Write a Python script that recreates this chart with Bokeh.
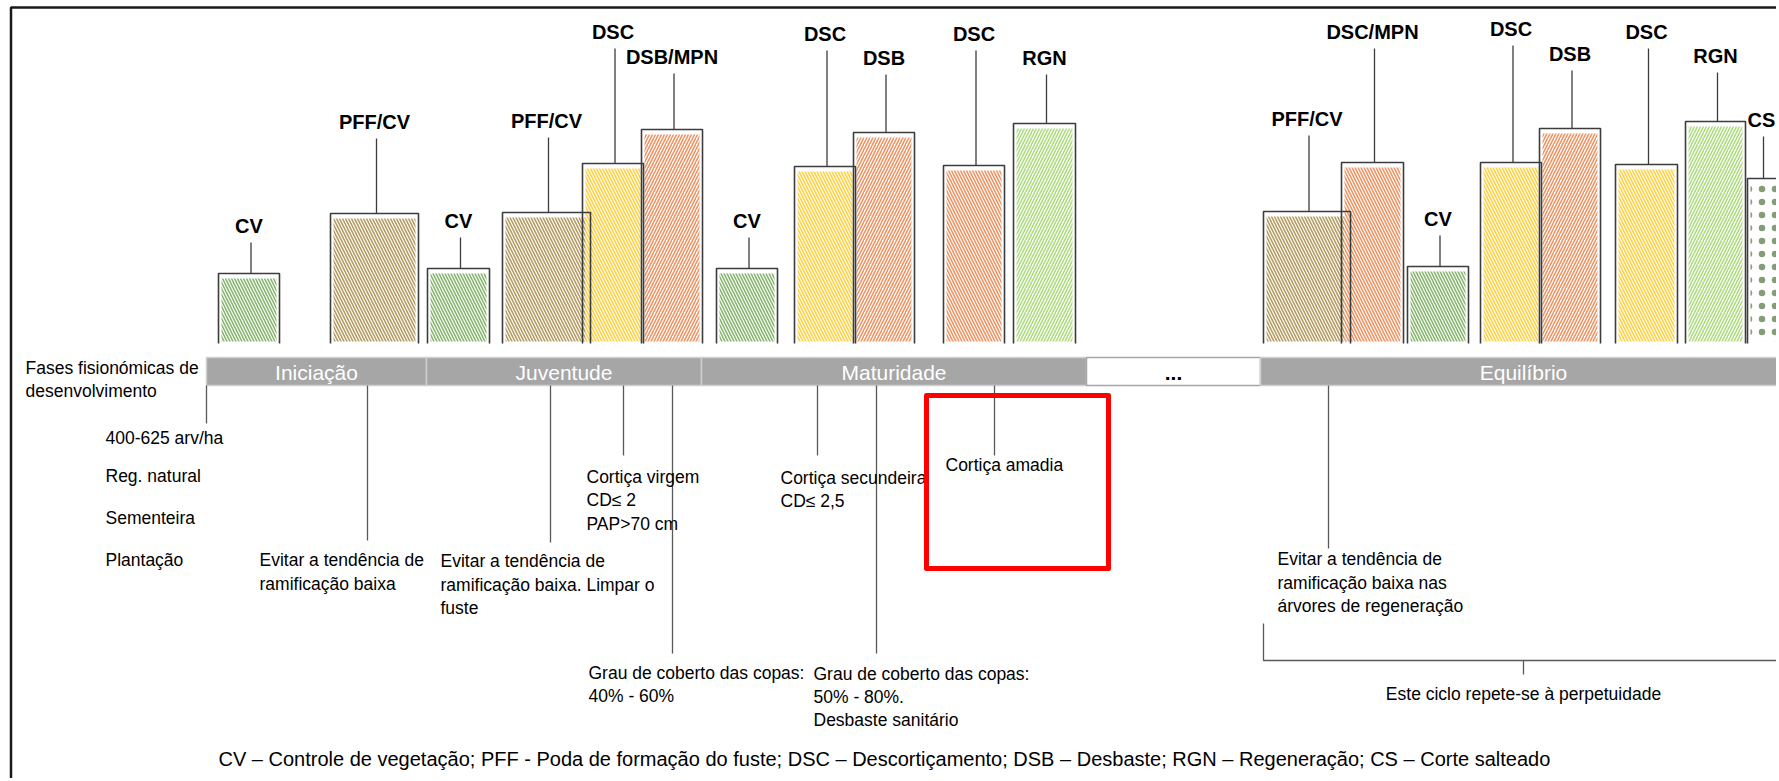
from bokeh.plotting import figure
from bokeh.models import Range1d, ColumnDataSource
from bokeh.core.properties import value
from bokeh.embed import file_html
from bokeh.resources import INLINE

# ---------------- data ----------------
# interventions (bars): label, kind, span along the timeline, bar height, label level
bar_labels = ["CV", "PFF/CV", "CV", "PFF/CV", "DSC", "DSB/MPN", "CV", "DSC", "DSB", "DSC",
              "RGN", "PFF/CV", "DSC/MPN", "CV", "DSC", "DSB", "DSC", "RGN", "CS"]
bar_kind = ["cv", "pff", "cv", "pff", "dsc_y", "dsb_o", "cv", "dsc_y", "dsb_o", "dsc_o",
            "rgn", "pff", "dsc_o", "cv", "dsc_y", "dsb_o", "dsc_y", "rgn", "cs"]
bar_start = [218, 330, 427, 502, 582, 641, 716, 794, 853, 943,
             1013, 1263, 1341, 1407, 1480, 1539, 1615, 1685, 1747]
bar_end = [279, 418, 489, 590, 643, 702, 777, 855, 914, 1004,
           1075, 1350, 1403, 1468, 1541, 1600, 1677, 1745, 1800]
bar_height = [70, 130, 75, 131, 180, 214, 75, 177, 211, 178,
              220, 132, 181, 77, 181, 215, 179, 222, 165]
label_level = [118, 222, 123, 223, 312, 287, 123, 310, 286, 310,
               286, 225, 312, 125, 315, 290, 312, 288, 224]

# physiognomic phases
phase_names = ["Iniciação", "Juventude", "Maturidade", "...", "Equilíbrio"]
phase_start = [206, 426, 701, 1086, 1260]
phase_end = [426, 701, 1086, 1260, 1800]

# notes below the timeline (leader x, leader depth)
note_x = [206, 367, 550, 623, 672, 817, 876, 994, 1328]
note_depth = [423, 540, 542, 455, 653, 455, 653, 455, 548]

# note texts (left x, depth, text)
text_x = [105, 105, 105, 105,
          259, 259,
          440, 440, 440,
          586, 586, 586,
          588, 588,
          780, 780,
          813, 813, 813,
          945,
          1277, 1277, 1277,
          25, 25]
text_depth = [437, 475, 517, 559,
              559, 583,
              560, 584, 607,
              476, 499, 523,
              672, 695,
              477, 500,
              673, 696, 719,
              464,
              558, 582, 605,
              367, 390]
text_str = ["400-625 arv/ha", "Reg. natural", "Sementeira", "Plantação",
            "Evitar a tendência de", "ramificação baixa",
            "Evitar a tendência de", "ramificação baixa. Limpar o", "fuste",
            "Cortiça virgem", "CD≤ 2", "PAP>70 cm",
            "Grau de coberto das copas:", "40% - 60%",
            "Cortiça secundeira", "CD≤ 2,5",
            "Grau de coberto das copas:", "50% - 80%.", "Desbaste sanitário",
            "Cortiça amadia",
            "Evitar a tendência de", "ramificação baixa nas", "árvores de regeneração",
            "Fases fisionómicas de", "desenvolvimento"]

cycle_text = "Este ciclo repete-se à perpetuidade"
legend_text = ("CV – Controle de vegetação; PFF  - Poda de formação do fuste; DSC – Descortiçamento; "
               "DSB – Desbaste; RGN – Regeneração; CS – Corte salteado")

# ---------------- styles ----------------
W, H = 1776, 778
BASE = 343
FONT = value("Liberation Sans")
kind_color = {"cv": "#5e9e3e", "pff": "#9c7a2c", "dsc_y": "#ffc000", "dsb_o": "#e8702f",
              "dsc_o": "#e8702f", "rgn": "#92d050", "cs": "#5a7d4a"}
kind_hatch = {"cv": "\\", "pff": "\\", "dsc_y": "\\", "dsb_o": "/", "dsc_o": "\\",
              "rgn": "/", "cs": "."}


def Y(depth):
    return BASE - depth


p = figure(width=W, height=H, x_range=Range1d(0, W), y_range=Range1d(Y(H), Y(0)),
           x_axis_type=None, y_axis_type=None, toolbar_location=None,
           output_backend="svg", min_border=0, outline_line_color=None)
p.background_fill_color = "white"
p.border_fill_color = "white"

# outer frame (left and top)
p.multi_line(xs=[[10.5, 10.5, 1800]], ys=[[Y(800), Y(7), Y(7)]], line_color="#1a1a1a", line_width=2.5)

# bars: hatched fill inset inside an open outline
for kind in ["cv", "pff", "dsc_y", "dsb_o", "dsc_o", "rgn", "cs"]:
    idx = [i for i, k in enumerate(bar_kind) if k == kind]
    src = ColumnDataSource(dict(
        left=[bar_start[i] + 3 for i in idx],
        right=[bar_end[i] - 3 for i in idx],
        top=[bar_height[i] - 5 for i in idx],
        bottom=[2 for i in idx]))
    scale = 13 if kind == "cs" else 6
    weight = 1.4 if kind == "cs" else 1.6
    p.quad(left="left", right="right", top="top", bottom="bottom", source=src,
           fill_color="white", line_color=None,
           hatch_pattern=kind_hatch[kind], hatch_color=kind_color[kind],
           hatch_scale=scale, hatch_weight=weight, hatch_alpha=0.75)

outline_xs = [[bar_start[i], bar_start[i], bar_end[i], bar_end[i]] for i in range(len(bar_labels))]
outline_ys = [[0, bar_height[i], bar_height[i], 0] for i in range(len(bar_labels))]
p.multi_line(xs=outline_xs, ys=outline_ys, line_color="#3c3c3c", line_width=1.6)

# leaders from labels to bars
centers = [(bar_start[i] + bar_end[i]) / 2 for i in range(len(bar_labels))]
centers[-1] = bar_start[-1] + 14
p.segment(x0=[c + 2 for c in centers], y0=[l - 17 for l in label_level],
          x1=[c + 2 for c in centers], y1=bar_height, line_color="#3c3c3c", line_width=1.3)
p.text(x=centers, y=label_level, text=bar_labels, text_font=FONT, text_font_style="bold",
       text_font_size="20px", text_align="center", text_baseline="middle", text_color="black")

# timeline band
band_fill = ["white" if n == "..." else "#a6a6a6" for n in phase_names]
band_line = ["#a6a6a6" if n == "..." else "#cfcfcf" for n in phase_names]
p.quad(left=phase_start, right=phase_end, top=Y(357), bottom=Y(385),
       fill_color=band_fill, line_color=band_line, line_width=1.5)
phase_mid = [(a + b) / 2 for a, b in zip(phase_start, phase_end)]
phase_mid[-1] = 1523
phase_color = ["black" if n == "..." else "white" for n in phase_names]
phase_style = ["bold" if n == "..." else "normal" for n in phase_names]
for i, n in enumerate(phase_names):
    p.text(x=[phase_mid[i]], y=[Y(372)], text=[n], text_font=FONT, text_font_size="21px",
           text_font_style=phase_style[i], text_align="center", text_baseline="middle",
           text_color=phase_color[i])

# note leaders and texts
p.segment(x0=note_x, y0=[Y(385)] * len(note_x), x1=note_x, y1=[Y(d) for d in note_depth],
          line_color="#595959", line_width=1.3)
p.text(x=text_x, y=[Y(d) for d in text_depth], text=text_str, text_font=FONT,
       text_font_size="17.5px", text_align="left", text_baseline="middle", text_color="black")

# cycle bracket
p.multi_line(xs=[[1263, 1263, 1800], [1523, 1523]], ys=[[Y(623), Y(660), Y(660)], [Y(660), Y(674)]],
             line_color="#595959", line_width=1.3)
p.text(x=[1523], y=[Y(693)], text=[cycle_text], text_font=FONT, text_font_size="17.5px",
       text_align="center", text_baseline="middle", text_color="black")

# highlight box
p.quad(left=[926], right=[1108], top=[Y(395)], bottom=[Y(568)], fill_color=None,
       line_color="#ff0000", line_width=5, line_join="round")

# abbreviations
p.text(x=[218], y=[Y(758)], text=[legend_text], text_font=FONT, text_font_size="20px",
       text_align="left", text_baseline="middle", text_color="black")

open("out.html", "w").write(file_html(p, INLINE))
